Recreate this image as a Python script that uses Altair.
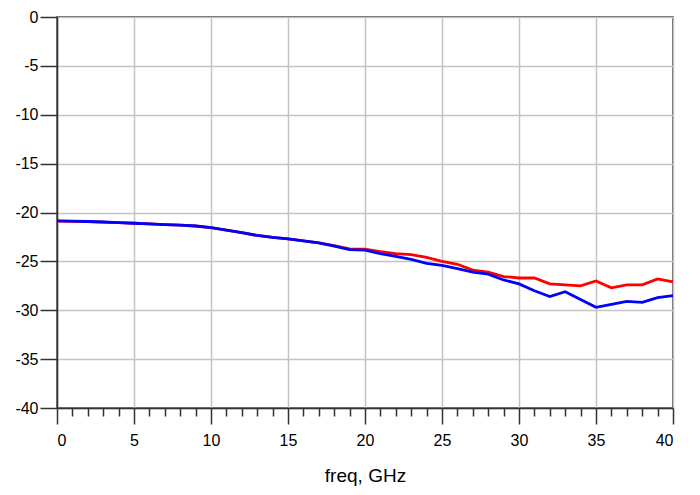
import altair as alt
import pandas as pd

freq = list(range(0, 41))
red = [-20.88, -20.9, -20.93, -20.98, -21.03, -21.1, -21.17, -21.24, -21.3, -21.38,
       -21.55, -21.8, -22.05, -22.35, -22.55, -22.7, -22.9, -23.1, -23.4, -23.72,
       -23.76, -24.0, -24.2, -24.3, -24.6, -25.0, -25.3, -25.9, -26.1, -26.55,
       -26.7, -26.7, -27.3, -27.4, -27.5, -27.0, -27.7, -27.4, -27.4, -26.8, -27.1]
blue = [-20.85, -20.88, -20.92, -20.97, -21.03, -21.1, -21.17, -21.24, -21.3, -21.38,
        -21.55, -21.8, -22.05, -22.35, -22.55, -22.7, -22.9, -23.1, -23.45, -23.8,
        -23.85, -24.2, -24.5, -24.8, -25.2, -25.4, -25.75, -26.1, -26.3, -26.9,
        -27.3, -28.0, -28.6, -28.1, -28.9, -29.7, -29.4, -29.1, -29.2, -28.7, -28.5]
series_names = ["red", "blue"]
series_colors = ["#ff0000", "#0000ff"]

x_ticks = list(range(0, 41))
y_ticks = list(range(-40, 1, 5))

rows = []
for name, vals in zip(series_names, [red, blue]):
    for f, v in zip(freq, vals):
        rows.append({"freq": f, "value": v, "series": name})
df = pd.DataFrame(rows)

font = "Liberation Sans"

chart = alt.Chart(df).mark_line(strokeWidth=2.8).encode(
    x=alt.X("freq:Q", title="freq, GHz",
            scale=alt.Scale(domain=[0, 40], nice=False, zero=False),
            axis=alt.Axis(
                values=x_ticks,
                labelExpr="datum.value % 5 === 0 ? toString(datum.value) : ''",
                tickSize={"condition": {"test": "datum.value % 5 === 0", "value": 16}, "value": 8},
                gridOpacity={"condition": {"test": "datum.value % 5 === 0", "value": 1}, "value": 0},
                labelPadding=8, titlePadding=18,
            )),
    y=alt.Y("value:Q", title=None,
            scale=alt.Scale(domain=[-40, 0], nice=False, zero=False),
            axis=alt.Axis(values=y_ticks, tickSize=17, labelPadding=2,
                          labelExpr="toString(datum.value)")),
    color=alt.Color("series:N", scale=alt.Scale(domain=series_names, range=series_colors), legend=None),
    order="series:N",
).properties(
    width=616, height=391,
    autosize=alt.AutoSizeParams(type="none"),
    padding={"left": 49, "top": 9, "right": 10, "bottom": 79},
).configure_axis(
    labelFont=font, titleFont=font, labelFontSize=16, titleFontSize=19,
    titleFontWeight="normal", labelColor="#000000", titleColor="#000000",
    domainColor="#333333", domainWidth=1.5, tickColor="#333333", tickWidth=1.5,
    gridColor="#c4c4c4", gridWidth=1.5,
).configure_view(stroke="#333333", strokeWidth=1.5)

chart.save("out.html", embed_options={"renderer": "svg", "actions": False})
